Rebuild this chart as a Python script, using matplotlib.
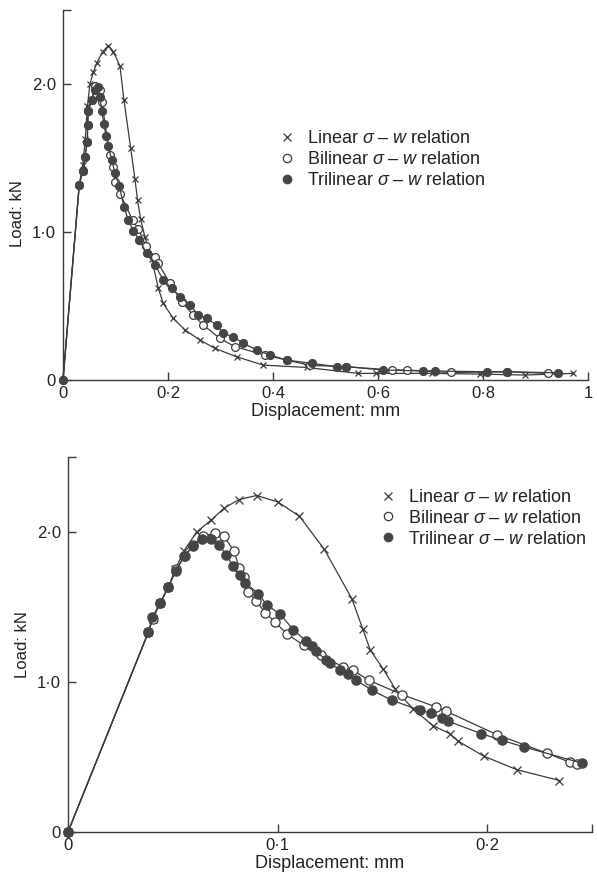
import matplotlib
matplotlib.use("Agg")
import matplotlib.pyplot as plt
from matplotlib.lines import Line2D

plt.rcParams["font.family"] = ["Liberation Sans", "DejaVu Sans"]
plt.rcParams["mathtext.fontset"] = "custom"
plt.rcParams["mathtext.rm"] = "Liberation Sans"
plt.rcParams["mathtext.it"] = "Liberation Sans:italic"

INK = "#3a3a3a"

# ---- top panel: full range (0 - 1 mm) ----
top_lin_x = [0, 0.031, 0.0375, 0.0425, 0.0465, 0.0514, 0.0578, 0.0641, 0.0756, 0.0863,
             0.0959, 0.1086, 0.1162, 0.129, 0.137, 0.142, 0.148, 0.156, 0.169, 0.1816,
             0.191, 0.21, 0.2324, 0.261, 0.2895, 0.3308, 0.3816, 0.464, 0.562, 0.597,
             0.702, 0.794, 0.88, 0.972]
top_lin_y = [0, 1.32, 1.45, 1.63, 1.85, 2.0, 2.08, 2.14, 2.22, 2.26,
             2.22, 2.12, 1.89, 1.565, 1.36, 1.216, 1.085, 0.968, 0.82, 0.62,
             0.518, 0.417, 0.338, 0.27, 0.214, 0.157, 0.101, 0.085, 0.045, 0.045,
             0.045, 0.04, 0.034, 0.045]
top_bil_x = [0, 0.031, 0.0375, 0.0419, 0.0463, 0.047, 0.0482, 0.0546, 0.061, 0.0705,
             0.0737, 0.0895, 0.0958, 0.099, 0.1086, 0.1327, 0.1435, 0.158, 0.175, 0.1816,
             0.2038, 0.226, 0.248, 0.267, 0.299, 0.3276, 0.385, 0.426, 0.47, 0.540,
             0.626, 0.6546, 0.740, 0.845, 0.9245]
top_bil_y = [0, 1.32, 1.41, 1.51, 1.61, 1.72, 1.82, 1.89, 1.99, 1.96,
             1.88, 1.52, 1.44, 1.34, 1.26, 1.08, 1.02, 0.905, 0.833, 0.788,
             0.653, 0.529, 0.439, 0.372, 0.281, 0.225, 0.169, 0.135, 0.10, 0.09,
             0.068, 0.068, 0.051, 0.056, 0.045]
top_tri_x = [0, 0.031, 0.0375, 0.0419, 0.0463, 0.047, 0.0482, 0.0546, 0.061, 0.0673,
             0.0705, 0.0737, 0.078, 0.0819, 0.0863, 0.0927, 0.099, 0.1073, 0.1162, 0.1244,
             0.134, 0.1454, 0.1594, 0.1752, 0.191, 0.207, 0.2229, 0.2419, 0.2578, 0.2737,
             0.2928, 0.3054, 0.3244, 0.3435, 0.369, 0.3943, 0.4261, 0.4737, 0.5213, 0.540,
             0.610, 0.686, 0.709, 0.807, 0.845, 0.9435]
top_tri_y = [0, 1.32, 1.41, 1.51, 1.61, 1.72, 1.82, 1.89, 1.96, 1.98,
             1.914, 1.82, 1.73, 1.65, 1.58, 1.49, 1.40, 1.31, 1.17, 1.08,
             1.01, 0.946, 0.856, 0.777, 0.676, 0.62, 0.563, 0.507, 0.439, 0.417,
             0.372, 0.315, 0.293, 0.248, 0.203, 0.169, 0.135, 0.113, 0.09, 0.09,
             0.068, 0.061, 0.061, 0.056, 0.056, 0.049]

# ---- bottom panel: close-up (0 - 0.25 mm) ----
bot_lin_x = [0, 0.0383, 0.0404, 0.0439, 0.0479, 0.0511, 0.0554, 0.0614, 0.0681, 0.0746,
             0.0816, 0.090, 0.1001, 0.1104, 0.1222, 0.1354, 0.1407, 0.1442, 0.1505, 0.1561,
             0.1645, 0.1741, 0.1821, 0.1863, 0.1986, 0.2142, 0.2345]
bot_lin_y = [0, 1.33, 1.42, 1.525, 1.63, 1.75, 1.875, 2.0, 2.077, 2.16,
             2.216, 2.243, 2.2, 2.105, 1.886, 1.556, 1.351, 1.213, 1.084, 0.955,
             0.821, 0.709, 0.656, 0.604, 0.504, 0.415, 0.343]
bot_bil_x = [0, 0.0383, 0.0404, 0.0439, 0.0479, 0.0516, 0.0558, 0.0598, 0.0645, 0.0699,
             0.0745, 0.0791, 0.0818, 0.0840, 0.0860, 0.0898, 0.0940, 0.0988, 0.1046, 0.1126,
             0.1206, 0.1314, 0.1359, 0.1434, 0.1593, 0.1755, 0.1804, 0.2046, 0.2285, 0.2396,
             0.2428]
bot_bil_y = [0, 1.33, 1.42, 1.525, 1.63, 1.75, 1.84, 1.91, 1.975, 1.99,
             1.97, 1.875, 1.76, 1.70, 1.60, 1.54, 1.463, 1.40, 1.318, 1.244,
             1.177, 1.10, 1.079, 1.012, 0.916, 0.834, 0.805, 0.649, 0.525, 0.464,
             0.455]
bot_tri_x = [0, 0.0383, 0.0402, 0.0439, 0.0479, 0.0514, 0.0554, 0.0595, 0.0640, 0.0681,
             0.0720, 0.0756, 0.0789, 0.0821, 0.0845, 0.0908, 0.0948, 0.1012, 0.1075, 0.1136,
             0.1163, 0.1184, 0.1232, 0.1251, 0.1298, 0.1338, 0.1375, 0.1450, 0.1545, 0.1680,
             0.1731, 0.1783, 0.1815, 0.1970, 0.2070, 0.2177, 0.2452]
bot_tri_y = [0, 1.33, 1.43, 1.525, 1.635, 1.74, 1.84, 1.906, 1.955, 1.955,
             1.915, 1.845, 1.77, 1.71, 1.66, 1.589, 1.514, 1.452, 1.348, 1.273,
             1.24, 1.206, 1.146, 1.124, 1.079, 1.05, 1.012, 0.945, 0.878, 0.811,
             0.793, 0.76, 0.738, 0.656, 0.611, 0.566, 0.459]

top_xticks = [0, 0.2, 0.4, 0.6, 0.8, 1.0]
top_xlabels = ["0", "0·2", "0·4", "0·6", "0·8", "1"]
bot_xticks = [0, 0.1, 0.2, 0.25]
bot_xlabels = ["0", "0·1", "0·2", ""]
yticks = [0, 1.0, 2.0, 2.5]
ylabels = ["0", "1·0", "2·0", ""]
legend_labels = [r"Linear $\sigma$ – $w$ relation",
                 r"Bilinear $\sigma$ – $w$ relation",
                 r"Trilinear $\sigma$ – $w$ relation"]

fig = plt.figure(figsize=(5.97, 8.83), dpi=100)
ax_top = fig.add_axes([0.1055, 0.5696, 0.8794, 0.4190])
ax_bot = fig.add_axes([0.1139, 0.0578, 0.8777, 0.4247])


def draw(ax, lin, bil, tri, ms, xticks, xlabels, xmax, leg_anchor):
    ax.plot(*lin, "-", color=INK, lw=0.9, marker="x", ms=ms * 0.85, mew=0.9, clip_on=False, zorder=3)
    ax.plot(*bil, "-", color=INK, lw=0.9, marker="o", ms=ms, mfc="white", mec=INK, mew=0.9,
            clip_on=False, zorder=4)
    ax.plot(*tri, "-", color=INK, lw=0.9, marker="o", ms=ms, mfc="#454545", mec="#454545",
            clip_on=False, zorder=5)
    ax.set_xlim(0, xmax)
    ax.set_ylim(0, 2.5)
    for s in ("top", "right"):
        ax.spines[s].set_visible(False)
    for s in ("left", "bottom"):
        ax.spines[s].set_color(INK)
        ax.spines[s].set_linewidth(1.0)
    ax.set_xticks(xticks, xlabels)
    ax.set_yticks(yticks, ylabels)
    ax.tick_params(direction="in", length=6, width=1.0, color=INK, labelcolor="#222222",
                   labelsize=12)
    ax.tick_params(axis="x", pad=4)
    ax.tick_params(axis="y", pad=5)
    ax.set_xlabel("Displacement: mm", fontsize=13, color="#222222", labelpad=2)
    ax.set_ylabel("Load: kN", fontsize=12, color="#222222")
    handles = [Line2D([], [], ls="none", marker="x", ms=5.5, mew=0.9, color=INK),
               Line2D([], [], ls="none", marker="o", ms=6, mfc="white", mec=INK, mew=0.9),
               Line2D([], [], ls="none", marker="o", ms=6, mfc="#454545", mec="#454545")]
    ax.legend(handles, legend_labels, loc="upper left", bbox_to_anchor=leg_anchor,
              frameon=False, borderpad=0, borderaxespad=0, handlelength=0.8,
              handletextpad=0.7, labelspacing=0.22, fontsize=13, labelcolor="#222222")


draw(ax_top, (top_lin_x, top_lin_y), (top_bil_x, top_bil_y), (top_tri_x, top_tri_y),
     5.6, top_xticks, top_xlabels, 1.0, (0.413, 0.676))
ax_top.yaxis.set_label_coords(-0.072, 0.45)
draw(ax_bot, (bot_lin_x, bot_lin_y), (bot_bil_x, bot_bil_y), (bot_tri_x, bot_tri_y),
     6.6, bot_xticks, bot_xlabels, 0.25, (0.597, 0.915))
ax_bot.yaxis.set_label_coords(-0.0725, 0.5)

fig.savefig("out.png", dpi=100)
